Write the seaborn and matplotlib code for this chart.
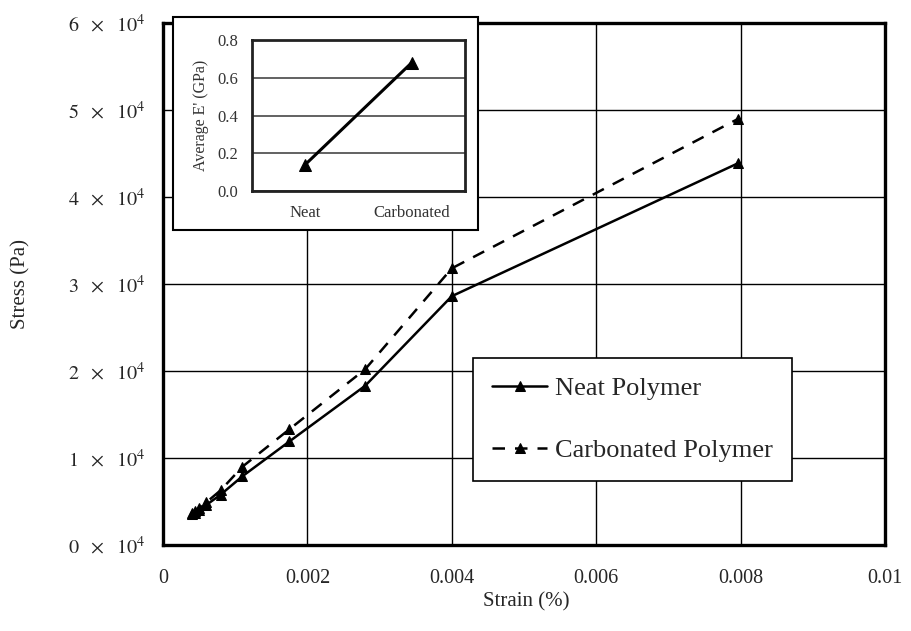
import numpy as np
import pandas as pd
import seaborn as sns
import matplotlib
matplotlib.use("Agg")
import matplotlib.pyplot as plt
from matplotlib.ticker import FuncFormatter
from matplotlib.patches import Rectangle

# ---- data ----
strain_neat = [0.00040, 0.00045, 0.00050, 0.00060, 0.00080, 0.00110, 0.00175, 0.00280, 0.00400, 0.00797]
stress_neat = [3600, 3700, 4000, 4600, 5800, 7900, 11900, 18300, 28600, 43900]
strain_carb = [0.00040, 0.00045, 0.00050, 0.00060, 0.00080, 0.00110, 0.00175, 0.00280, 0.00400, 0.00797]
stress_carb = [3700, 3900, 4200, 4900, 6300, 9000, 13300, 20200, 31800, 49000]
inset_cats = ["Neat", "Carbonated"]
inset_vals = [0.14, 0.68]
series_names = ["Neat Polymer", "Carbonated Polymer"]

sns.set_theme(style="white")
plt.rcParams["font.family"] = ["Liberation Serif", "DejaVu Serif"]
plt.rcParams["mathtext.fontset"] = "stix"

fig = plt.figure(figsize=(9.12, 6.31), dpi=100)
ax = fig.add_axes([163 / 912, 1 - 545 / 631, (885 - 163) / 912, (545 - 23) / 631])

df = pd.concat([
    pd.DataFrame({"Strain": strain_neat, "Stress": stress_neat, "Series": series_names[0]}),
    pd.DataFrame({"Strain": strain_carb, "Stress": stress_carb, "Series": series_names[1]}),
])

sns.lineplot(data=df[df.Series == series_names[0]], x="Strain", y="Stress", ax=ax,
             color="black", linewidth=1.8, marker="^", markersize=7,
             markeredgecolor="black", sort=False, label=series_names[0])
sns.lineplot(data=df[df.Series == series_names[1]], x="Strain", y="Stress", ax=ax,
             color="black", linewidth=1.8, linestyle=(0, (5, 4)), marker="^", markersize=7,
             markeredgecolor="black", sort=False, label=series_names[1])

ax.set_xlim(0, 0.01)
ax.set_ylim(0, 60000)
ax.set_xticks([0, 0.002, 0.004, 0.006, 0.008, 0.01])
ax.set_xticklabels(["0", "0.002", "0.004", "0.006", "0.008", "0.01"])
ax.set_yticks(np.arange(0, 60001, 10000))
ax.yaxis.set_major_formatter(FuncFormatter(
    lambda v, p: r"$%d\ \ \times\ \ 10^{4}$" % round(v / 10000)))
ax.tick_params(axis="both", labelsize=14.5, length=0)
ax.tick_params(axis="x", pad=17)
ax.tick_params(axis="y", pad=13)
ax.grid(True, color="black", linewidth=1.0)
ax.set_axisbelow(True)
for s in ax.spines.values():
    s.set_visible(True)
    s.set_linewidth(2.4)
    s.set_color("black")
ax.set_xlabel("Strain (%)", fontsize=15)
ax.set_ylabel("Stress (Pa)", fontsize=15)
ax.yaxis.set_label_coords((30 - 163) / 722, 0.5)
ax.xaxis.set_label_coords((526 - 163) / 722, (545 - 592) / 522)

leg = ax.legend(loc="upper left", bbox_to_anchor=(473 / 912, 1 - 358 / 631),
                bbox_transform=fig.transFigure, fontsize=19, frameon=True,
                fancybox=False, edgecolor="black", handlelength=2.1, handletextpad=0.3,
                labelspacing=1.45, borderpad=0.72, borderaxespad=0, markerscale=1.0)
leg.get_frame().set_linewidth(1.2)
leg.get_frame().set_alpha(1)
leg.set_zorder(5)

# inset frame
rect = Rectangle((173 / 912, 1 - 230 / 631), (478 - 173) / 912, (230 - 17) / 631,
                 transform=fig.transFigure, facecolor="white", edgecolor="black",
                 linewidth=1.5, zorder=2)
fig.add_artist(rect)

iax = fig.add_axes([252 / 912, 1 - 191 / 631, (465 - 252) / 912, (191 - 40) / 631], zorder=3)
sns.lineplot(x=[0, 1], y=inset_vals, ax=iax, color="black", linewidth=2.2,
             marker="^", markersize=8, markeredgecolor="black")
iax.set_xlim(-0.5, 1.5)
iax.set_ylim(0, 0.8)
iax.set_xticks([0, 1])
iax.set_xticklabels(inset_cats)
iax.set_yticks([0, 0.2, 0.4, 0.6, 0.8])
iax.set_yticklabels(["0.0", "0.2", "0.4", "0.6", "0.8"])
iax.tick_params(axis="both", labelsize=12, length=0, colors="#333333")
iax.tick_params(axis="x", pad=10)
iax.tick_params(axis="y", pad=10)
iax.grid(True, axis="y", color="#555555", linewidth=1.3)
iax.set_axisbelow(True)
for s in iax.spines.values():
    s.set_visible(True)
    s.set_color("#222222")
    s.set_linewidth(2.0)
iax.set_xlabel("")
iax.set_ylabel("Average E' (GPa)", fontsize=11.5, color="#333333", labelpad=6)
iax.set_facecolor("white")

fig.savefig("out.png", dpi=100)
